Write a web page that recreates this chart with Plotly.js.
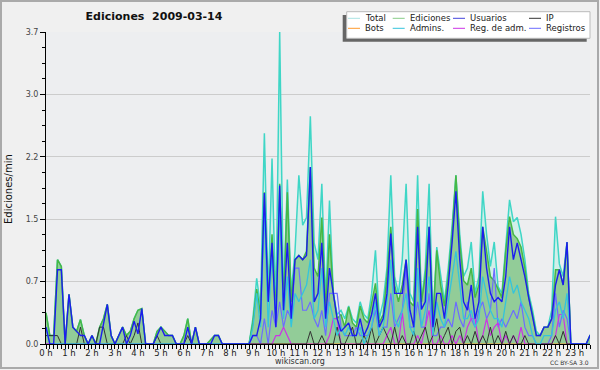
<!DOCTYPE html>
<html><head><meta charset="utf-8">
<script src="https://cdn.plot.ly/plotly-3.0.1.min.js"></script>
<style>html,body{margin:0;padding:0;background:#f0f0f0}</style>
</head><body><div id="chart" style="width:600px;height:370px"></div>
<script>
// 10-minute bins, 144 per day (values in edits per minute)
const hourLabels = ["0 h","1 h","2 h","3 h","4 h","5 h","6 h","7 h","8 h","9 h","10 h","11 h","12 h","13 h","14 h","15 h","16 h","17 h","18 h","19 h","20 h","21 h","22 h","23 h"];
const yTickVals = [0, 0.74, 1.48, 2.22, 2.96, 3.7];
const yTickText = ["0.0","0.7","1.5","2.2","3.0","3.7"];

const total = [
0.37,0.1,0.1,1.0,0.92,0,0.59,0.2,0.15,0.29,0.1,0,
0.1,0,0.2,0.3,0.47,0.1,0,0.1,0.2,0.1,0.15,0.3,
0.4,0.42,0,0,0,0.15,0.2,0.15,0.1,0.1,0,0,
0.1,0.3,0,0.2,0,0,0,0.05,0.1,0.1,0,0,
0,0,0,0,0,0,0.3,0.78,0.44,2.5,0.55,2.2,
0.4,3.7,0.5,1.95,0.6,1.1,2.0,1.41,1.5,2.7,1.2,1.0,
1.9,0.5,1.7,0.6,0.35,0.4,0.3,0.45,0.3,0.25,0.5,0.35,
0.3,0.6,1.11,0.3,0.5,0.9,2.0,0.8,0.6,1.0,1.9,0.6,
0.5,2.0,0.5,0.9,1.9,0.3,1.15,0.8,0.5,0.9,1.4,2.0,
1.3,0.8,0.9,1.21,0.6,0.8,1.81,1.3,0.92,1.21,0.68,0.6,
1.2,1.71,1.45,1.5,1.3,1.0,0.6,0.4,0.15,0.1,0.2,0.2,
0.4,1.51,0.95,0.8,1.21,0,0,0,0,0,0.1,0.1];

const ediciones = [
0.37,0.1,0.1,1.0,0.92,0,0.59,0.2,0.15,0.29,0.1,0,
0.1,0,0.2,0.3,0.47,0.1,0,0.1,0.2,0.1,0.15,0.3,
0.4,0.42,0,0,0,0.15,0.2,0.15,0.1,0.1,0,0,
0.1,0.3,0,0.2,0,0,0,0.05,0.1,0.1,0,0,
0,0,0,0,0,0,0.25,0.65,0.35,1.8,0.5,1.3,
0.35,1.9,0.45,1.8,0.5,1.0,1.05,1.0,1.1,2.1,0.9,0.8,
1.5,0.4,1.3,0.6,0.3,0.35,0.2,0.44,0.25,0.2,0.45,0.3,
0.25,0.5,0.72,0.25,0.35,0.8,1.39,0.7,0.5,0.7,1.0,0.5,
0.45,1.6,0.5,0.8,1.39,0.25,1.11,0.7,0.45,0.8,1.3,2.0,
1.2,0.75,0.7,0.9,0.55,0.7,1.39,1.1,0.8,0.75,0.65,0.55,
1.1,1.51,1.3,1.25,1.15,0.9,0.55,0.35,0.1,0.1,0.2,0.2,
0.3,0.88,0.88,0.7,1.2,0,0,0,0,0,0.1,0.1];

const usuarios = [
0.2,0,0,0.88,0.88,0,0.59,0.2,0.15,0.1,0.1,0,
0.1,0,0,0.25,0.47,0.1,0,0.1,0.2,0,0.1,0.27,
0.12,0.42,0,0,0,0.1,0.2,0.1,0.1,0.1,0,0,
0,0.2,0,0.2,0,0,0,0,0.1,0.1,0,0,
0,0,0,0,0,0,0.1,0.1,0.3,1.79,0.5,1.2,
0.2,1.88,0.4,1.2,0.3,1.0,1.05,1.0,1.05,2.1,0.5,0.6,
1.2,0.3,0.9,0.6,0.3,0.15,0.2,0.25,0.1,0.1,0.3,0.1,
0.2,0.35,0.6,0.2,0.3,0.6,1.31,0.6,0.6,0.6,1.0,0.4,
0.2,1.39,0.41,0.5,1.39,0.2,0.6,0.6,0.3,0.7,1.2,1.81,
1.0,0.5,0.4,0.7,0.3,0.5,1.39,0.9,0.6,0.5,0.55,0.5,
0.8,1.39,1.0,1.2,1.0,0.8,0.55,0.3,0.1,0.1,0.2,0.2,
0.3,0.7,0.88,0.7,1.21,0,0,0,0,0,0.1,0.1];

const ip = [
0.1,0.1,0.1,0.1,0,0,0,0,0,0.2,0,0,
0,0,0.2,0.2,0,0,0,0,0,0.1,0,0.1,
0.25,0,0,0,0,0.1,0,0,0,0,0,0,
0,0.1,0,0,0,0,0,0,0,0,0,0,
0,0,0,0,0,0,0,0,0,0,0,0,
0,0,0,0,0,0,0,0,0,0.15,0,0,
0.1,0,0,0,0.2,0,0,0.1,0.2,0,0,0.1,
0,0.2,0,0.1,0.2,0.1,0,0.2,0,0.1,0,0,
0.15,0,0.1,0.2,0,0.1,0.3,0,0.1,0.2,0,0.15,
0.2,0,0.1,0,0.15,0,0.1,0,0.2,0,0.1,0,
0.15,0,0.1,0,0,0.1,0,0,0,0,0,0,
0,0.1,0,0.15,0,0,0,0,0,0,0,0];

const bots = [
0,0,0,0,0,0,0,0,0,0,0,0, 0,0,0,0,0,0,0,0,0,0,0,0,
0,0,0,0,0,0,0,0,0,0,0,0, 0,0,0,0,0,0,0,0,0,0,0,0,
0,0,0,0,0,0,0,0,0,0,0,0, 0,0,0,0,0,0,0,0,0,0,0,0,
0,0,0,0,0,0,0,0,0,0,0,0, 0,0,0,0,0,0,0,0,0,0,0,0,
0,0,0,0,0,0,0,0,0,0,0,0, 0,0,0,0,0,0,0,0,0,0,0,0,
0,0,0,0,0,0,0,0,0,0,0,0, 0,0,0,0,0,0,0,0,0,0,0,0];

const admins = [
0.2,0,0,0,0,0,0,0,0,0,0,0,
0,0,0,0,0,0,0,0,0,0,0,0,
0,0,0,0,0,0,0,0,0,0,0,0,
0,0,0,0,0,0,0,0,0,0,0,0,
0,0,0,0,0,0,0.2,0.6,0.2,1.6,0.2,1.1,
0.3,1.7,0.3,0.8,0.2,0.6,0.5,0.6,0.7,1.0,0.3,0.4,
0.9,0.2,0.5,0.3,0.1,0.2,0.1,0.2,0.1,0.1,0.2,0,
0.1,0.2,0.5,0.1,0.2,0.5,1.0,0.3,0.2,0.4,0.6,0.2,
0.1,0.9,0.2,0.4,0.8,0.1,0.5,0.3,0.2,0.5,0.8,1.1,
0.7,0.3,0.3,0.4,0.2,0.3,0.8,0.6,0.4,0.3,0.3,0.2,
0.5,0.8,0.6,0.7,0.5,0.4,0.3,0.1,0,0,0.1,0.1,
0.1,0.4,0.5,0.3,0.6,0,0,0,0,0,0,0];

const regAdm = [
0,0,0,0,0,0,0,0,0,0,0,0, 0,0,0,0,0,0,0,0,0,0,0,0,
0,0,0,0,0,0,0,0,0,0,0,0, 0,0,0,0,0,0,0,0,0,0,0,0,
0,0,0,0,0,0,0,0,0,0,0,0,
0.1,0.1,0.2,0.1,0,0,0,0,0,0,0,0,
0,0,0.1,0.3,0.3,0,0,0,0,0,0,0,
0,0,0,0,0,0.1,0.2,0,0,0.37,0,0,
0,0.1,0,0.2,0.4,0,0,0.1,0,0,0.1,0,
0.1,0,0.2,0.3,0.3,0,0.1,0.3,0.1,0.2,0.25,0,
0.1,0,0.1,0,0.2,0,0,0,0,0,0,0,
0,0.1,0.35,0.35,0,0,0,0,0,0,0,0];

const registros = [
0,0,0,0,0,0,0,0,0,0,0,0, 0,0,0,0,0,0,0,0,0,0,0,0,
0,0,0,0,0,0,0,0,0,0,0,0, 0,0,0,0,0,0,0,0,0,0,0,0,
0,0,0,0,0,0,0.1,0.1,0,0.3,0,0.4,
0.2,0.5,0.2,0.4,0.3,0.9,0.9,0.4,0.4,0.5,0.3,0.2,
0.4,0.1,0.6,0.6,0.6,0.2,0.1,0.1,0.1,0.2,0.1,0.1,
0.1,0.2,0.4,0.1,0.2,0.2,0.6,0.2,0.3,0.4,0.9,0.2,
0.2,0.5,0.2,0.2,0.6,0.1,0.1,0.2,0.2,0.3,0.2,0.5,
0.3,0.2,0.5,0.3,0.2,0.4,0.5,0.3,0.4,0.9,0.2,0.3,
0.2,0.3,0.4,0.3,0.5,0.2,0.1,0.1,0,0,0,0,
0.1,0.6,0.2,0.4,0.3,0,0,0,0,0,0,0];

const binHours = 1/6;
const x = total.map((_, i) => i * binHours);

const C = {
  totalLine:'#3fd6c6', totalFill:'rgba(205,238,232,0.85)', totalKey:'#a9e3e3',
  edLine:'#46b846', edFill:'rgba(120,190,120,0.72)', edKey:'#88cc88',
  usu:'#1c1cf0', ip:'#333333', bots:'#ff9a2e', adm:'#34c4dc', regadm:'#cc33e6', reg:'#6c6cff'
};

function ln(y, color, w, extra){ return Object.assign({x:x, y:y, type:'scatter', mode:'lines', line:{color:color, width:w}, hoverinfo:'skip', showlegend:false}, extra||{}); }

const traces = [
  ln(total, C.totalLine, 1.5, {fill:'tozeroy', fillcolor:C.totalFill}),
  ln(ediciones, C.edLine, 1.5, {fill:'tozeroy', fillcolor:C.edFill}),
  ln(bots, C.bots, 1),
  ln(registros, C.reg, 1.2),
  ln(regAdm, C.regadm, 1.2),
  ln(ip, C.ip, 1),
  ln(admins, C.adm, 1.3),
  ln(usuarios, C.usu, 1.4)
];

// pixel helpers (plot area: x 46..590, y 32..344)
const L=46, R=590, T=32, B=344;
const px = v => (v - L)/(R - L);
const py = v => (B - v)/(B - T);

const shapes = [
  {type:'rect', xref:'paper', yref:'paper', x0:px(1), x1:px(598), y0:py(1), y1:py(368), line:{color:'#aaaaaa', width:2}, fillcolor:'rgba(0,0,0,0)', layer:'above'},
  {type:'rect', xref:'paper', yref:'paper', x0:px(342.7), x1:px(586.7), y0:py(15), y1:py(41.7), line:{width:0}, fillcolor:'#666666', layer:'above'},
  {type:'rect', xref:'paper', yref:'paper', x0:px(346.7), x1:px(590), y0:py(11.7), y1:py(38.3), line:{color:'#bbbbbb', width:1}, fillcolor:'#ffffff', layer:'above'}
];
const annotations = [];
const legendItems = [
  ["Total", C.totalKey, 348, 18.3], ["Ediciones", C.edKey, 392.7, 18.3], ["Usuarios", '#4444dd', 453, 18.3], ["IP", '#333333', 529, 18.3],
  ["Bots", C.bots, 348, 28.3], ["Admins.", C.adm, 392.7, 28.3], ["Reg. de adm.", C.regadm, 453, 28.3], ["Registros", C.reg, 529, 28.3]
];
legendItems.forEach(([name, col, sx, sy]) => {
  shapes.push({type:'line', xref:'paper', yref:'paper', x0:px(sx), x1:px(sx+12), y0:py(sy), y1:py(sy), line:{color:col, width:1}, layer:'above'});
  annotations.push({xref:'paper', yref:'paper', x:px(sx+16), y:py(sy), xanchor:'left', yanchor:'middle', showarrow:false, borderpad:0, text:name, font:{family:'DejaVu Sans', size:8.5, color:'#222222'}});
});
annotations.push({xref:'paper', yref:'paper', x:px(8), y:py(189), xanchor:'center', yanchor:'middle', showarrow:false, textangle:-90, text:'Ediciones/min', font:{family:'DejaVu Sans', size:10, color:'#111111'}});
annotations.push({xref:'paper', yref:'paper', x:px(300), y:py(361.5), xanchor:'center', yanchor:'middle', showarrow:false, borderpad:0, text:'wikiscan.org', font:{family:'DejaVu Sans', size:8, color:'#333333'}});
annotations.push({xref:'paper', yref:'paper', x:px(590), y:py(362.5), xanchor:'right', yanchor:'middle', showarrow:false, borderpad:0, text:'CC BY-SA 3.0', font:{family:'DejaVu Sans', size:6, color:'#333333'}});

const layout = {
  width:600, height:370,
  margin:{l:L, r:600-R, t:T, b:370-B, pad:0},
  paper_bgcolor:'#f0f0f0', plot_bgcolor:'#edeef0',
  title:{text:'<b>Ediciones\u00a0\u00a02009-03-14</b>', xref:'container', yref:'container', x:154/600, xanchor:'center', y:1-16/370, yanchor:'middle', font:{family:'DejaVu Sans', size:11, color:'#111111'}},
  xaxis:{range:[0, 142*binHours], tickmode:'array', tickvals:hourLabels.map((_, i) => i), ticktext:hourLabels,
    ticks:'outside', ticklen:4, tickcolor:'#000', showline:true, linecolor:'#000', linewidth:1, showgrid:false, zeroline:false,
    ticklabelstandoff:-3,
    tickfont:{family:'DejaVu Sans', size:8.5, color:'#222222'},
    minor:{tickmode:'linear', tick0:0, dtick:binHours, ticks:'outside', ticklen:4, tickcolor:'#000', showgrid:false}, fixedrange:true},
  yaxis:{range:[0, 3.7], tickmode:'array', tickvals:yTickVals, ticktext:yTickText,
    ticks:'outside', ticklen:5, tickcolor:'#000', showline:true, linecolor:'#000', linewidth:1, gridcolor:'#cccccc', gridwidth:1, zeroline:false,
    tickfont:{family:'DejaVu Sans', size:8, color:'#444444'},
    minor:{tickmode:'linear', tick0:0, dtick:0.185, ticks:'outside', ticklen:3, tickcolor:'#000', showgrid:false}, fixedrange:true},
  shapes:shapes, annotations:annotations, showlegend:false
};
Plotly.newPlot('chart', traces, layout, {displayModeBar:false, staticPlot:true});
</script></body></html>
